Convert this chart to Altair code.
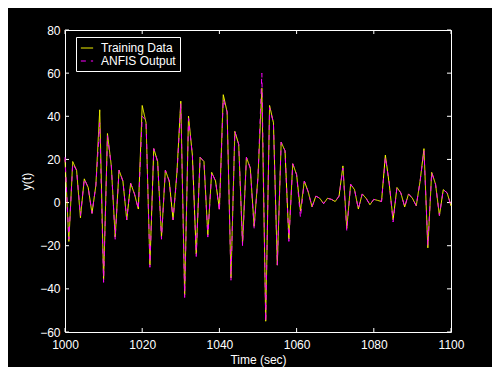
import altair as alt
import pandas as pd

# Time axis (sec)
time = list(range(1000, 1101))

# Training data y(t)
train = [20, -18, 19, 15, -7, 11, 7, -5, 8, 43,
         -36, 32, 17, -16, 15, 10, -8, 9, 4, -3,
         45, 37, -29, 25, 19, -16, 15, 10, -8, 14,
         47, -43, 40, 22, -24, 21, 19, -15, 14, 10,
         -3, 50, 42, -35, 33, 27, -19, 21, 16, -11,
         12, 53, -55, 45, 37, -29, 28, 24, -17, 18,
         13, -4, 10, 5, -2, 3, 2, -0.5, 2, 1.5,
         0.5, 3, 17, -12, 8.5, 6, -3, 4, 2, -1,
         1.5, 1, 0.5, 22, 8.5, -8, 7, 4.5, -2, 4,
         2, -1.5, 10, 25, -21, 14, 8.5, -6, 6, 4.5,
         -1.5]

# ANFIS output
anfis = [21, -17, 18, 15, -6, 11, 7, -5, 8, 37,
         -37, 31, 17, -17, 15, 10, -8, 9, 4, -3,
         40, 38, -30, 25, 19, -17, 15, 10, -8, 13,
         46, -44, 39, 22, -25, 21, 19, -16, 14, 10,
         -4, 48, 42, -36, 33, 27, -20, 21, 16, -12,
         12, 60, -55, 44, 37, -29, 28, 24, -18, 18,
         13, -7, 10, 5, -2, 3, 2, -0.5, 2, 1.5,
         0.5, 3, 16, -13, 8.5, 6, -3, 4, 2, -1,
         1.5, 1, 0.5, 21, 9, -9, 7, 4.5, -2, 4,
         2, -1.5, 10, 24, -20, 14, 8.5, -6, 6, 4.5,
         -1.5]

series_names = ["Training Data", "ANFIS Output"]
x_ticks = [1000, 1020, 1040, 1060, 1080, 1100]
y_ticks = [-60, -40, -20, 0, 20, 40, 60, 80]

W, H = 386, 302
FONT = "Liberation Sans"

df_train = pd.DataFrame({"t": time, "y": train, "series": series_names[0]})
df_anfis = pd.DataFrame({"t": time, "y": anfis, "series": series_names[1]})
df_xt = pd.DataFrame({"t": x_ticks})
df_yt = pd.DataFrame({"y": y_ticks})

x_scale = alt.Scale(domain=[1000, 1100], nice=False, zero=False)
y_scale = alt.Scale(domain=[-60, 80], nice=False, zero=False)
x_axis = alt.Axis(values=x_ticks, title="Time (sec)", format="d", labelFlush=False,
                  labelPadding=7, titlePadding=4)
y_axis = alt.Axis(values=y_ticks, title="y(t)", labelFlush=False)

color = alt.Color(
    "series:N",
    scale=alt.Scale(domain=series_names, range=["#FFFF00", "#FF00FF"]),
    legend=alt.Legend(title=None),
)
dash = alt.StrokeDash(
    "series:N",
    scale=alt.Scale(domain=series_names, range=[[1, 0], [5, 5]]),
    legend=alt.Legend(title=None),
)

X = alt.X("t:Q", scale=x_scale, axis=x_axis)
Y = alt.Y("y:Q", scale=y_scale, axis=y_axis)

line_train = alt.Chart(df_train).mark_line(strokeWidth=1).encode(
    x=X, y=Y, color=color, strokeDash=dash
)
line_anfis = alt.Chart(df_anfis).mark_line(strokeWidth=1).encode(
    x=X, y=Y, color=color, strokeDash=dash
)

tick_len = 4
xt_bottom = alt.Chart(df_xt).mark_rule(color="white", strokeWidth=1).encode(
    x=alt.X("t:Q", scale=x_scale, axis=x_axis),
    y=alt.value(H), y2=alt.value(H - tick_len),
)
xt_top = alt.Chart(df_xt).mark_rule(color="white", strokeWidth=1).encode(
    x=alt.X("t:Q", scale=x_scale, axis=x_axis),
    y=alt.value(0), y2=alt.value(tick_len),
)
yt_left = alt.Chart(df_yt).mark_rule(color="white", strokeWidth=1).encode(
    y=alt.Y("y:Q", scale=y_scale, axis=y_axis),
    x=alt.value(0), x2=alt.value(tick_len),
)
yt_right = alt.Chart(df_yt).mark_rule(color="white", strokeWidth=1).encode(
    y=alt.Y("y:Q", scale=y_scale, axis=y_axis),
    x=alt.value(W), x2=alt.value(W - tick_len),
)

chart = (
    alt.layer(xt_bottom, xt_top, yt_left, yt_right, line_train, line_anfis)
    .properties(
        width=W,
        height=H,
        background="black",
        autosize=alt.AutoSizeParams(type="none"),
        padding={"left": 57, "top": 22, "right": 41, "bottom": 35},
    )
    .configure_view(stroke="white", strokeWidth=1, fill="black")
    .configure_axis(
        domain=False,
        grid=False,
        ticks=False,
        labelColor="white",
        labelFont=FONT,
        labelFontSize=12,
        labelPadding=5,
        titleColor="white",
        titleFont=FONT,
        titleFontSize=12,
        titleFontWeight="normal",
        titlePadding=6,
    )
    .configure_legend(
        orient="none",
        legendX=11,
        legendY=7,
        direction="vertical",
        fillColor="black",
        strokeColor="white",
        padding=4,
        cornerRadius=0,
        labelColor="white",
        labelFont=FONT,
        labelFontSize=12,
        labelOffset=7,
        symbolType="stroke",
        symbolSize=150,
        symbolStrokeWidth=1,
        rowPadding=0,
    )
)

chart.save("out.html", embed_options={"renderer": "svg", "actions": False})
